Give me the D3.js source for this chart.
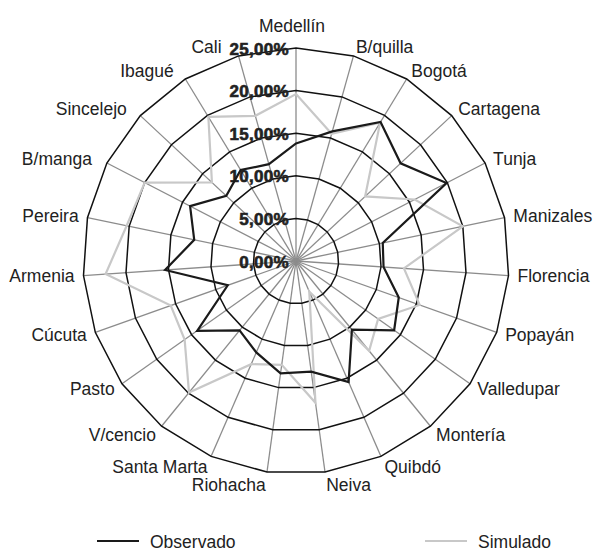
<!DOCTYPE html>
<html>
<head>
<meta charset="utf-8">
<script src="https://cdn.jsdelivr.net/npm/d3@7"></script>
<style>
  body { margin: 0; background: #fff; }
  svg text { font-family: "Liberation Sans", Arial, sans-serif; }
</style>
</head>
<body>
<div class="radarChart"></div>
<script>
// categories (clockwise from the top)
var categories = ["Medellín", "B/quilla", "Bogotá", "Cartagena", "Tunja", "Manizales",
    "Florencia", "Popayán", "Valledupar", "Montería", "Quibdó", "Neiva", "Riohacha",
    "Santa Marta", "V/cencio", "Pasto", "Cúcuta", "Armenia", "Pereira", "B/manga",
    "Sincelejo", "Ibagué", "Cali"];

// percent values
var observado = [13.8, 15.8, 19.1, 16.8, 19.9, 10.4, 10.3, 12.8, 14.1, 10.4, 15.5, 13.1,
    13.3, 11.7, 10.5, 14.2, 8.5, 15.4, 12.2, 14.0, 11.2, 12.5, 11.8];
var simulado = [19.6, 15.5, 19.0, 11.1, 15.7, 20.0, 12.7, 15.4, 11.8, 13.6, 3.9, 16.8,
    12.3, 13.2, 19.9, 16.0, 15.6, 22.4, 20.3, 20.0, 13.5, 19.8, 17.7];

var ticks = [0, 5, 10, 15, 20, 25];

var series = [
    {name: "Observado", values: observado, color: "#1a1a1a"},
    {name: "Simulado", values: simulado, color: "#c8c8c8"}
];

function drawChart() {
    var width = 595, height = 553;
    var cx = 296, cy = 261, R = 213;
    var n = categories.length;

    var svg = d3.select(".radarChart").append("svg")
        .attr("width", width)
        .attr("height", height);

    var r = d3.scaleLinear().domain([0, 25]).range([0, R]);
    var angle = function(i) { return i * 2 * Math.PI / n; };
    var fmt = d3.formatLocale({decimal: ",", thousands: ".", grouping: [3], currency: ["", ""]}).format(".2f");

    var g = svg.append("g").attr("transform", "translate(" + cx + "," + cy + ")");

    // spokes
    g.selectAll(".axis").data(categories).enter().append("line")
        .attr("x1", 0).attr("y1", 0)
        .attr("x2", function(d, i) { return r(25) * Math.sin(angle(i)); })
        .attr("y2", function(d, i) { return -r(25) * Math.cos(angle(i)); })
        .style("stroke", "#8c8c8c")
        .style("stroke-width", 1.3);

    // polygon grid
    var gridLine = d3.lineRadial()
        .angle(function(d, i) { return angle(i); })
        .radius(function(d) { return r(d); })
        .curve(d3.curveLinearClosed);

    g.selectAll(".grid").data(ticks.filter(function(t) { return t > 0; })).enter().append("path")
        .attr("d", function(t) { return gridLine(categories.map(function() { return t; })); })
        .style("fill", "none")
        .style("stroke", "#111")
        .style("stroke-width", 1.5);

    // tick labels
    var tickText = g.selectAll(".tick").data(ticks).enter().append("text")
        .attr("x", -7)
        .attr("y", function(t) { return -r(t) + 1; })
        .attr("text-anchor", "end")
        .attr("dominant-baseline", "central")
        .style("font-weight", "bold")
        .style("font-size", "17px")
        .style("letter-spacing", "0.3px")
        .style("fill", "#222")
        .style("stroke", "#222")
        .style("stroke-width", 0.6)
        .text(function(t) { return fmt(t) + "%"; });

    // series
    var line = d3.lineRadial()
        .angle(function(d, i) { return angle(i); })
        .radius(function(d) { return r(d); })
        .curve(d3.curveLinearClosed);

    g.selectAll(".series").data(series.slice().reverse()).enter().append("path")
        .attr("d", function(s) { return line(s.values); })
        .style("fill", "none")
        .style("stroke", function(s) { return s.color; })
        .style("stroke-width", 2.2)
        .style("stroke-linejoin", "miter");

    // category labels
    var lr = R + 9;
    var labels = g.selectAll(".label").data(categories).enter().append("text")
        .attr("dominant-baseline", "central")
        .style("font-size", "17.5px")
        .style("fill", "#222")
        .text(function(d) { return d; })
        .each(function(d, i) {
            var s = Math.sin(angle(i)), c = Math.cos(angle(i));
            var x = lr * s, y = -lr * c;
            var anchor = Math.abs(s) < 0.05 ? "middle" : (s > 0 ? "start" : "end");
            if (anchor == "middle") { y -= 13; x -= 4; }
            if (c < 0) y += 4 * Math.pow(c, 4);
            if (s < -0.3 && c > 0.3) x -= 7;
            d3.select(this).attr("x", x).attr("y", y).attr("text-anchor", anchor);
        });

    // push labels away from the tick labels they would overlap
    var boxes = [];
    tickText.each(function() { boxes.push(this.getBBox()); });
    labels.each(function() {
        var b = this.getBBox();
        var self = d3.select(this);
        boxes.forEach(function(t) {
            var overlapX = b.x < t.x + t.width && b.x + b.width > t.x - 8;
            var overlapY = b.y < t.y + t.height && b.y + b.height > t.y;
            if (overlapX && overlapY && self.attr("text-anchor") == "end") {
                self.attr("x", t.x - 8);
            }
        });
    });

    // legend
    var legend = svg.append("g").attr("transform", "translate(0,541)");
    var legendX = [97, 425];
    series.forEach(function(s, i) {
        legend.append("line")
            .attr("x1", legendX[i]).attr("x2", legendX[i] + 42)
            .attr("y1", 0).attr("y2", 0)
            .style("stroke", s.color)
            .style("stroke-width", 2.2);
        legend.append("text")
            .attr("x", legendX[i] + 53)
            .attr("y", 1)
            .attr("dominant-baseline", "central")
            .style("font-size", "17.5px")
            .style("fill", "#222")
            .text(s.name);
    });
}

drawChart();
</script>
</body>
</html>
